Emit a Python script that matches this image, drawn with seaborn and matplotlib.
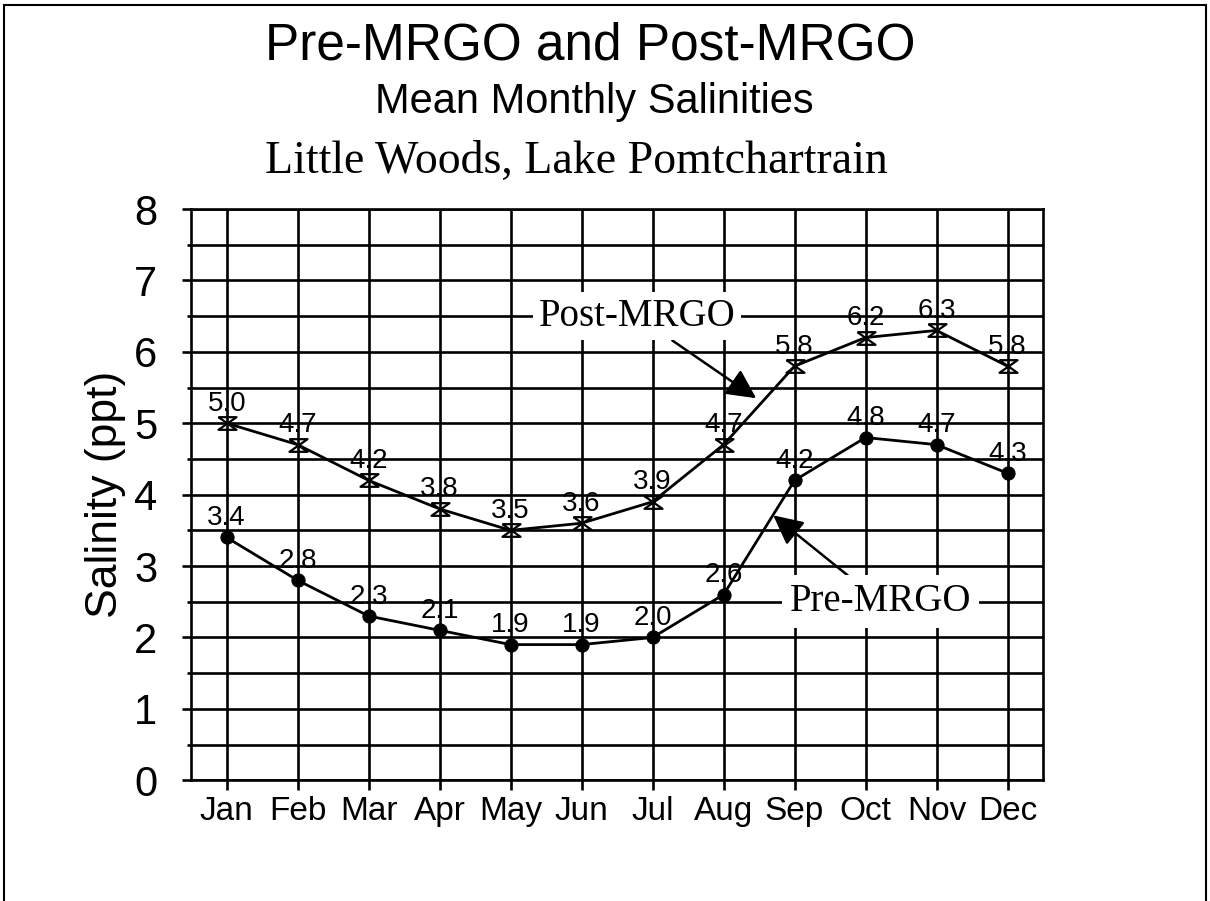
import numpy as np
import pandas as pd
import matplotlib
matplotlib.use("Agg")
import matplotlib.pyplot as plt
import seaborn as sns
from matplotlib.path import Path
from matplotlib.patches import Rectangle

# ---- data ----
months = ["Jan", "Feb", "Mar", "Apr", "May", "Jun",
          "Jul", "Aug", "Sep", "Oct", "Nov", "Dec"]
post_mrgo = [5.0, 4.7, 4.2, 3.8, 3.5, 3.6, 3.9, 4.7, 5.8, 6.2, 6.3, 5.8]
pre_mrgo = [3.4, 2.8, 2.3, 2.1, 1.9, 1.9, 2.0, 2.6, 4.2, 4.8, 4.7, 4.3]
y_ticks = [0, 1, 2, 3, 4, 5, 6, 7, 8]
title_lines = ["Pre-MRGO and Post-MRGO", "Mean Monthly Salinities",
               "Little Woods, Lake Pomtchartrain"]
y_label = "Salinity (ppt)"

sns.set_theme(style="white")
plt.rcParams["font.family"] = ["Liberation Sans", "DejaVu Sans"]

df_post = pd.DataFrame({"Month": months, "Salinity": post_mrgo})
df_pre = pd.DataFrame({"Month": months, "Salinity": pre_mrgo})

fig = plt.figure(figsize=(12.1, 9.01), dpi=100)
fig.patch.set_facecolor("white")
ax = fig.add_axes([0.158, 0.134, 0.704, 0.634])
ax.set_facecolor("white")

# hourglass marker (bar top and bottom, X in between)
hg = Path([(-1, 0.7), (1, 0.7), (-1, -0.7), (1, -0.7), (-1, 0.7)],
          [Path.MOVETO, Path.LINETO, Path.LINETO, Path.LINETO, Path.LINETO])

sns.lineplot(data=df_post, x="Month", y="Salinity", ax=ax, color="black",
             lw=2.0, marker=hg, markersize=13, markerfacecolor="none",
             markeredgecolor="black", markeredgewidth=1.6, sort=False)
sns.lineplot(data=df_pre, x="Month", y="Salinity", ax=ax, color="black",
             lw=2.0, marker="o", markersize=9.5, markerfacecolor="black",
             markeredgecolor="black", sort=False)

for i, v in enumerate(post_mrgo):
    ax.annotate(f"{v:.1f}", xy=(i, v), xytext=(0, 9), textcoords="offset points",
                ha="center", va="baseline", fontsize=20, color="black")
for i, v in enumerate(pre_mrgo):
    ax.annotate(f"{v:.1f}", xy=(i, v), xytext=(0, 9), textcoords="offset points",
                ha="center", va="baseline", fontsize=20, color="black")

ax.set_xlim(-0.5, 11.5)
ax.set_ylim(0, 8)
ax.set_xticks(range(len(months)))
ax.set_xticklabels(months)
ax.set_yticks(y_ticks)
ax.set_yticks(np.arange(0.5, 8, 1.0), minor=True)

ax.grid(True, axis="y", which="both", color="black", lw=1.9)
ax.grid(True, axis="x", which="major", color="black", lw=1.9)
ax.set_axisbelow(True)
for s in ax.spines.values():
    s.set_visible(True)
    s.set_color("black")
    s.set_linewidth(1.9)

ax.tick_params(axis="y", which="major", length=6.5, width=1.9, color="black",
               pad=18, labelsize=30, left=True, labelcolor="black")
ax.tick_params(axis="y", which="minor", length=3, width=1.9, color="black", left=True)
ax.tick_params(axis="x", which="major", length=7, width=1.9, color="black",
               pad=4, labelsize=24, bottom=True, labelcolor="black")

ax.set_xlabel("")
ax.set_ylabel(y_label, fontsize=32, color="black", labelpad=6)

serif = ["Liberation Serif", "DejaVu Serif"]
ax.annotate("Post-MRGO", xy=(7.46, 5.35), xytext=(5.78, 6.5),
            ha="center", va="center", fontsize=28, family=serif, color="black",
            bbox=dict(boxstyle="square,pad=0.15", fc="white", ec="none"),
            arrowprops=dict(arrowstyle="-|>", color="black", lw=1.8,
                            mutation_scale=45, shrinkA=0, shrinkB=0))
ax.annotate("Pre-MRGO", xy=(7.70, 3.71), xytext=(9.21, 2.5),
            ha="center", va="center", fontsize=28, family=serif, color="black",
            bbox=dict(boxstyle="square,pad=0.2", fc="white", ec="none"),
            arrowprops=dict(arrowstyle="-|>", color="black", lw=1.8,
                            mutation_scale=45, shrinkA=0, shrinkB=0))

fig.text(590 / 1210, 1 - 60 / 901, title_lines[0], ha="center", va="baseline",
         fontsize=37, color="black")
fig.text(594 / 1210, 1 - 113 / 901, title_lines[1], ha="center", va="baseline",
         fontsize=30, color="black")
fig.text(576 / 1210, 1 - 173 / 901, title_lines[2], ha="center", va="baseline",
         fontsize=33, color="black", family=serif)

fig.add_artist(Rectangle((0.003, -0.02), 0.994, 1.015, transform=fig.transFigure,
                         fill=False, ec="black", lw=1.5))

fig.savefig("out.png", dpi=100, facecolor="white")
